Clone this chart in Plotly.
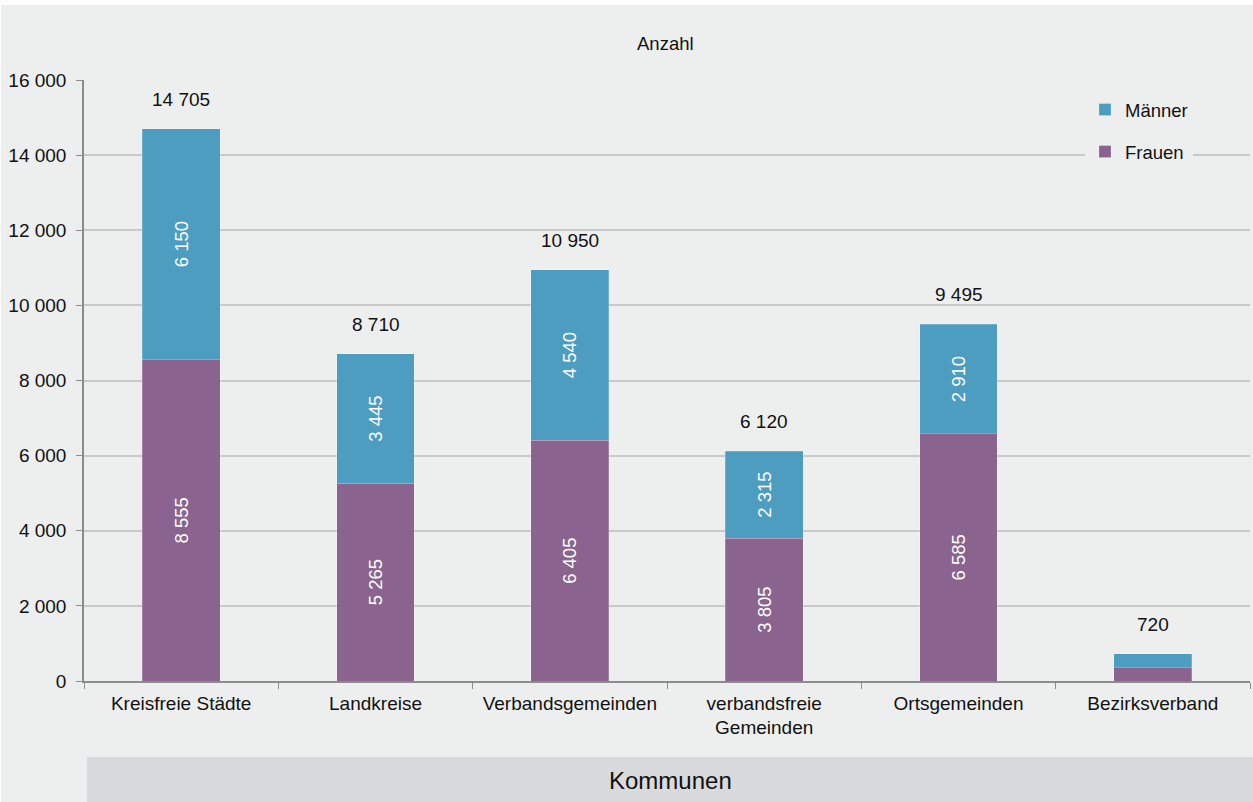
import plotly.graph_objects as go

categories = ["Kreisfreie Städte", "Landkreise", "Verbandsgemeinden",
              "verbandsfreie<br>Gemeinden", "Ortsgemeinden", "Bezirksverband"]
frauen = [8555, 5265, 6405, 3805, 6585, 355]
maenner = [6150, 3445, 4540, 2315, 2910, 365]
totals = [14705, 8710, 10950, 6120, 9495, 720]
y_ticks = [0, 2000, 4000, 6000, 8000, 10000, 12000, 14000, 16000]

BG = "#EDEFEE"
BLUE = "#4C9DBF"
PURPLE = "#8A648E"
FONT = "Liberation Sans, Arial, sans-serif"
FS = 19

fig = go.Figure()
fig.add_trace(go.Bar(
    x=categories, y=frauen, name="Frauen", legendgroup="f", legendrank=2,
    marker=dict(color=PURPLE, line=dict(width=0.6, color="rgba(255,255,255,0.35)")),
    texttemplate="%{y:,d}", textposition="inside", insidetextanchor="middle",
    textangle=-90, textfont=dict(color="white", size=18.5, family=FONT),
    hoverinfo="skip"))
fig.add_trace(go.Bar(
    x=categories, y=maenner, name="Männer", legendgroup="m", legendrank=1,
    marker=dict(color=BLUE, line=dict(width=0.6, color="rgba(255,255,255,0.35)")),
    texttemplate="%{y:,d}", textposition="inside", insidetextanchor="middle",
    textangle=-90, textfont=dict(color="white", size=18.5, family=FONT),
    hoverinfo="skip"))

for c, t in zip(categories, totals):
    fig.add_annotation(x=c, y=t, text=f"{t:,}".replace(",", " "), showarrow=False,
                       yanchor="bottom", yshift=17,
                       font=dict(size=FS, color="#111111", family=FONT))

# paper-space helpers (plot area: x 84..1250 px, y 80..681 px)
def px_x(p):
    return (p - 84) / 1166

def px_y(p):
    return (681 - p) / 601

shapes = [
    dict(type="rect", xref="paper", yref="paper", x0=px_x(-5), x1=px_x(1260),
         y0=px_y(5), y1=px_y(-5), fillcolor="white", line=dict(width=0), layer="below"),
    dict(type="rect", xref="paper", yref="paper", x0=px_x(-5), x1=px_x(1),
         y0=px_y(810), y1=px_y(-5), fillcolor="white", line=dict(width=0), layer="below"),
    dict(type="rect", xref="paper", yref="paper", x0=px_x(87), x1=px_x(1260),
         y0=px_y(757), y1=px_y(810), fillcolor="#D9DADB", line=dict(width=0), layer="below"),
]

fig.add_annotation(xref="paper", yref="paper", x=(px_x(87) + px_x(1253)) / 2,
                   y=px_y(780), yanchor="middle", xanchor="center",
                   text="Kommunen", showarrow=False,
                   font=dict(size=24, color="#111111", family=FONT))
fig.add_annotation(xref="paper", yref="paper", x=px_x(665), y=px_y(43),
                   yanchor="middle", xanchor="center",
                   text="Anzahl", showarrow=False,
                   font=dict(size=18.5, color="#111111", family=FONT))

fig.update_layout(
    width=1253, height=802,
    margin=dict(l=84, r=3, t=80, b=121),
    paper_bgcolor=BG, plot_bgcolor=BG,
    barmode="stack", bargap=0.6,
    separators=", ",
    font=dict(family=FONT, size=FS, color="#111111"),
    shapes=shapes,
    uniformtext=dict(mode="hide", minsize=12),
    legend=dict(x=px_x(1085), y=px_y(91), xanchor="left", yanchor="top",
                bgcolor=BG, borderwidth=0, traceorder="grouped",
                tracegroupgap=15, font=dict(size=18.5, family=FONT, color="#111111"),
                itemwidth=30),
    xaxis=dict(type="category", showline=True, linecolor="#8C8C8C", linewidth=1.5,
               ticks="outside", tickson="boundaries", ticklen=6, tickcolor="#8C8C8C",
               tickfont=dict(size=FS, family=FONT, color="#111111"),
               ticklabelstandoff=4, showgrid=False),
    yaxis=dict(range=[0, 16000], tickvals=y_ticks, tickformat=",d",
               showline=True, linecolor="#8C8C8C", linewidth=1.5,
               ticks="outside", ticklen=6, tickcolor="#8C8C8C",
               showgrid=True, gridcolor="#C9C9C9", gridwidth=1.5,
               zeroline=False, ticklabelstandoff=6,
               tickfont=dict(size=FS, family=FONT, color="#111111")),
)

fig.write_html("out.html", config={"displayModeBar": False},
               post_script="document.body.style.margin='0';document.body.style.overflow='hidden';")
